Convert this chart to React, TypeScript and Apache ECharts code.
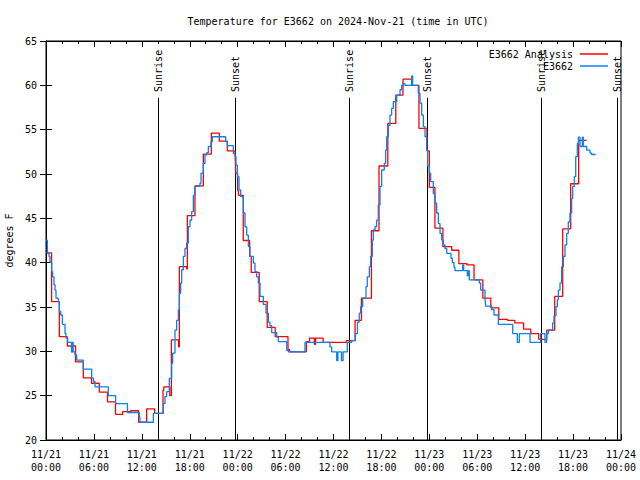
import React, { useEffect, useRef } from "react";
import * as echarts from "echarts";

// Hours since 2024-11-21 00:00 UTC
const analysisTimes = [0, 0.7, 1.67, 2.67, 3.7, 4.67, 5.7, 6.67, 7.7, 8.7, 9.6, 10.6, 11.6, 12.6, 13.6, 14.65, 14.75, 15.5, 15.7, 16.6, 16.7, 17.6, 17.7, 18.65, 19.7, 20.7, 21.7, 22.7, 23.67, 23.75, 24.0, 24.1, 24.7, 25.5, 25.7, 26.7, 27.7, 28.7, 30.3, 30.5, 32.6, 33.0, 33.6, 33.75, 34.7, 37.6, 38.7, 39.5, 40.75, 41.7, 42.8, 43.8, 44.7, 45.8, 46.7, 47.7, 48.0, 48.7, 49.7, 50.8, 51.7, 52.7, 53.6, 54.7, 55.7, 56.7, 57.8, 58.7, 59.8, 60.7, 61.7, 62.7, 63.7, 64.7, 65.7, 66.7, 67.7];
const analysisValues = [41.1, 35.6, 31.65, 30.6, 28.8, 27.0, 26.4, 25.4, 24.3, 22.9, 23.2, 23.3, 22.0, 23.5, 23.0, 25.6, 26.0, 25.0, 31.3, 30.5, 39.55, 39.3, 45.3, 48.65, 52.25, 54.6, 53.7, 52.6, 52.45, 50.1, 48.1, 47.6, 42.5, 40.7, 38.9, 35.6, 32.7, 31.65, 30.2, 29.95, 31.1, 31.5, 30.8, 31.5, 31.0, 31.2, 33.5, 36.0, 43.6, 50.9, 55.7, 58.9, 60.7, 60.0, 55.15, 52.6, 48.5, 43.9, 41.8, 41.4, 39.9, 39.75, 38.05, 36.0, 34.9, 33.6, 33.5, 33.2, 32.5, 32.0, 31.35, 32.4, 36.2, 43.8, 48.9, 53.8, 53.8];

const obsTimes = [0, 0.17, 0.38, 0.5, 0.71, 0.83, 1.0, 1.13, 1.25, 1.54, 1.67, 1.84, 2.05, 2.38, 2.5, 2.71, 3.2, 3.3, 3.4, 3.63, 3.84, 4.67, 5.72, 5.93, 6.14, 7.8, 8.72, 10.2, 11.68, 11.77, 13.44, 14.69, 14.9, 15.11, 15.44, 15.74, 15.86, 16.15, 16.36, 16.57, 16.7, 16.86, 16.99, 17.2, 17.4, 17.61, 17.82, 18.03, 18.24, 18.45, 18.66, 19.28, 19.41, 19.7, 19.91, 20.12, 20.33, 20.66, 20.83, 22.5, 22.71, 23.46, 23.67, 23.79, 23.96, 24.17, 24.38, 24.71, 24.92, 25.13, 25.34, 25.54, 25.96, 26.17, 26.38, 26.59, 26.8, 27.21, 27.55, 27.84, 28.05, 28.26, 28.89, 29.09, 30.14, 30.34, 32.43, 35.56, 35.77, 36.4, 36.55, 37.0, 37.2, 37.73, 38.28, 38.75, 39.0, 39.23, 39.4, 39.65, 40.07, 40.23, 40.49, 40.65, 40.86, 40.99, 41.2, 41.41, 41.61, 41.82, 42.03, 42.36, 42.53, 42.66, 42.86, 43.07, 43.28, 43.49, 43.91, 44.33, 44.54, 44.74, 44.95, 45.79, 45.91, 46.62, 46.83, 47.04, 47.25, 47.46, 47.67, 47.79, 48.0, 48.17, 48.5, 48.71, 48.92, 49.13, 49.34, 49.55, 49.75, 49.96, 50.18, 50.71, 50.88, 51.09, 51.21, 52.18, 52.3, 52.76, 52.85, 53.0, 54.26, 54.43, 54.97, 55.05, 55.8, 56.1, 56.64, 58.44, 59.02, 59.27, 60.61, 61.94, 62.48, 62.69, 62.9, 63.44, 63.61, 63.86, 64.03, 64.15, 64.36, 64.57, 64.78, 64.99, 65.2, 65.4, 65.61, 65.82, 65.95, 66.15, 66.33, 66.53, 66.66, 66.87, 67.16, 67.28, 67.7, 68.12, 68.33, 68.83];
const obsValues = [42.55, 41.05, 40.7, 40.05, 39.0, 38.4, 37.5, 36.9, 36.0, 35.6, 34.5, 34.1, 33.05, 32.0, 31.5, 31.0, 29.9, 31.0, 29.95, 29.6, 29.0, 28.0, 27.0, 26.6, 26.0, 25.0, 24.1, 23.1, 22.6, 22.0, 23.0, 24.1, 24.9, 25.45, 26.95, 28.65, 29.8, 32.4, 33.5, 34.7, 36.55, 37.7, 39.2, 40.7, 41.6, 42.2, 44.05, 44.8, 45.75, 47.6, 48.6, 48.95, 50.1, 51.2, 52.15, 52.4, 53.1, 53.65, 54.2, 53.65, 53.2, 52.3, 51.95, 51.0, 49.7, 48.2, 47.45, 45.6, 44.05, 43.1, 41.8, 40.7, 39.95, 39.0, 38.4, 37.7, 36.2, 35.3, 34.3, 33.3, 32.9, 32.1, 31.6, 31.1, 30.1, 29.95, 31.0, 30.5, 29.95, 28.95, 29.95, 28.95, 29.95, 31.0, 31.2, 32.0, 33.3, 34.3, 35.05, 36.0, 37.3, 38.4, 39.55, 40.7, 42.55, 43.7, 44.05, 44.8, 46.5, 48.6, 50.45, 51.2, 52.7, 54.2, 55.5, 56.65, 57.4, 58.15, 58.9, 59.5, 60.0, 60.2, 60.0, 61.05, 60.0, 59.1, 58.0, 56.65, 55.35, 54.2, 52.7, 50.9, 50.1, 49.15, 47.8, 46.7, 45.6, 44.4, 43.3, 42.55, 42.0, 41.6, 41.05, 40.5, 40.0, 39.5, 39.1, 39.75, 39.1, 38.5, 39.1, 38.05, 37.7, 36.9, 36.0, 35.1, 34.7, 34.1, 33.05, 32.0, 31.0, 32.0, 31.0, 32.0, 31.0, 32.0, 32.4, 33.2, 34.0, 35.05, 35.8, 36.9, 37.7, 39.55, 40.7, 42.0, 43.3, 44.6, 45.6, 47.25, 48.6, 49.7, 51.95, 53.45, 54.15, 53.1, 54.15, 53.1, 52.7, 52.35, 52.2, 52.2];

const sunTimes = [14.02, 23.67, 37.94, 47.71, 61.98, 71.45];
const sunLabels = ["Sunrise", "Sunset", "Sunrise", "Sunset", "Sunrise", "Sunset"];

const xTickLabels = [
  "11/21\n00:00", "11/21\n06:00", "11/21\n12:00", "11/21\n18:00",
  "11/22\n00:00", "11/22\n06:00", "11/22\n12:00", "11/22\n18:00",
  "11/23\n00:00", "11/23\n06:00", "11/23\n12:00", "11/23\n18:00",
  "11/24\n00:00",
];

const FONT = "DejaVu Sans Mono";

export default function App() {
  const ref = useRef<HTMLDivElement>(null);
  useEffect(() => {
    if (!ref.current) return;
    const chart = echarts.init(ref.current, undefined, { renderer: "svg" });
    const pair = (ts: number[], vs: number[]) => ts.map((t, i) => [t, vs[i]]);
    const tickCommon = {
      axisLine: { show: true, lineStyle: { color: "#000", width: 1 } },
      axisTick: { show: true, inside: true, length: 6, lineStyle: { color: "#000" } },
      splitLine: { show: false },
    };
    chart.setOption({
      animation: false,
      backgroundColor: "#fff",
      title: {
        text: "Temperature for E3662 on 2024-Nov-21 (time in UTC)",
        left: 333,
        textAlign: "center",
        top: 11,
        textStyle: { fontFamily: FONT, fontSize: 10, fontWeight: "normal", color: "#000" },
      },
      legend: {
        orient: "vertical",
        right: 27,
        top: 44,
        align: "right",
        itemWidth: 28,
        itemHeight: 1.5,
        itemGap: 2,
        icon: "rect",
        textStyle: { fontFamily: FONT, fontSize: 10, color: "#000", padding: [0, 2, 0, 0] },
        data: ["E3662 Analysis", "E3662"],
      },
      grid: {
        left: 46, right: 19, top: 41, bottom: 40, show: true, borderColor: "#000", borderWidth: 1,
        backgroundColor: "transparent", containLabel: false, outerBoundsMode: "none",
      },
      xAxis: [
        {
          type: "value", min: 0, max: 72, interval: 6, position: "bottom",
          ...tickCommon,
          minorTick: { show: true, splitNumber: 3, length: 3, lineStyle: { color: "#000" } },
          axisLabel: {
            margin: 8, fontFamily: FONT, fontSize: 10, color: "#000", lineHeight: 13,
            formatter: (v: number) => xTickLabels[Math.round(v / 6)] ?? "",
          },
        },
        {
          type: "value", min: 0, max: 72, interval: 6, position: "top",
          ...tickCommon,
          minorTick: { show: true, splitNumber: 3, length: 3, lineStyle: { color: "#000" } },
          axisLabel: { show: false },
        },
      ],
      yAxis: [
        {
          type: "value", min: 20, max: 65, interval: 5, position: "left",
          ...tickCommon,
          name: "degrees F", nameLocation: "middle", nameGap: 31, nameRotate: 90,
          nameTextStyle: { fontFamily: FONT, fontSize: 10, color: "#000" },
          axisLabel: { margin: 9, fontFamily: FONT, fontSize: 10, color: "#000" },
        },
        {
          type: "value", min: 20, max: 65, interval: 5, position: "right",
          ...tickCommon,
          axisLabel: { show: false },
        },
      ],
      series: [
        {
          name: "E3662 Analysis", type: "line", step: "end", symbol: "none", showSymbol: false,
          xAxisIndex: 0, yAxisIndex: 0,
          lineStyle: { color: "#ff0000", width: 1.3 }, itemStyle: { color: "#ff0000" },
          data: pair(analysisTimes, analysisValues),
        },
        {
          name: "E3662", type: "line", step: "end", symbol: "none", showSymbol: false,
          xAxisIndex: 0, yAxisIndex: 0,
          lineStyle: { color: "#0a80f5", width: 1.3 }, itemStyle: { color: "#0a80f5" },
          data: pair(obsTimes, obsValues),
        },
        {
          type: "custom", xAxisIndex: 0, yAxisIndex: 0, clip: false, silent: true,
          data: sunTimes.map((t) => [t]),
          renderItem: (params: any, api: any) => {
            const t = api.value(0);
            const p0 = api.coord([t, 20]);
            const p1 = api.coord([t, 58.6]);
            const pt = api.coord([t, 59.25]);
            const x = Math.round(p0[0]) + 0.5;
            return {
              type: "group",
              children: [
                { type: "line", shape: { x1: x, y1: p0[1], x2: x, y2: p1[1] }, style: { stroke: "#000", lineWidth: 1 } },
                {
                  type: "text", x: x, y: pt[1], rotation: Math.PI / 2,
                  style: { text: sunLabels[params.dataIndex], fontFamily: FONT, fontSize: 10, fill: "#000", textAlign: "left", textVerticalAlign: "middle" },
                },
              ],
            };
          },
        },
      ],
    });
    return () => chart.dispose();
  }, []);
  return <div ref={ref} style={{ position: "fixed", left: 0, top: 0, width: 640, height: 480 }} />;
}
